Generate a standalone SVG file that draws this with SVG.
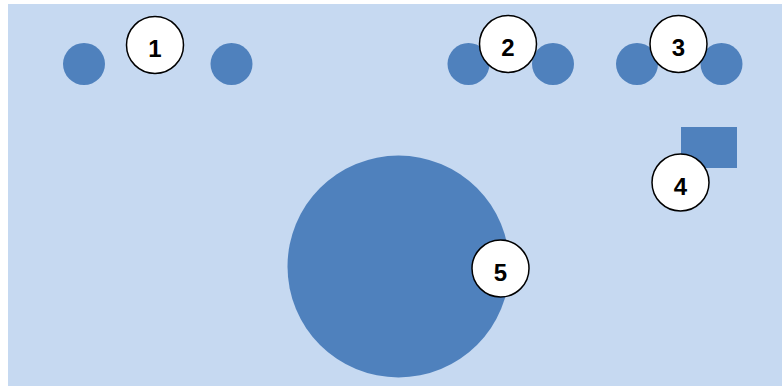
<svg xmlns="http://www.w3.org/2000/svg" width="782" height="392" viewBox="0 0 782 392">
<style>
.shape{fill:#4f81bd}
.badge circle{fill:#fff;stroke:#000;stroke-width:1.5}
.badge text{font-family:"Liberation Sans",Arial,sans-serif;font-weight:bold;font-size:24px;fill:#000;text-anchor:middle}
</style>
<rect x="0" y="0" width="782" height="392" fill="#ffffff"/>
<rect x="8" y="4" width="774" height="382" fill="#c6d9f1"/>
<g id="shapes">
<circle class="shape" cx="84" cy="64" r="21"/>
<circle class="shape" cx="231.5" cy="64" r="21"/>
<circle class="shape" cx="468.5" cy="64" r="21"/>
<circle class="shape" cx="553" cy="64" r="21"/>
<circle class="shape" cx="637" cy="64" r="21"/>
<circle class="shape" cx="721.5" cy="64" r="21"/>
<rect class="shape" x="681" y="127" width="56" height="41"/>
<circle class="shape" cx="398.5" cy="266.5" r="111"/>
</g>
<g id="badge1" class="badge"><circle cx="155" cy="45" r="28.5"/><text x="155" y="57">1</text></g>
<g id="badge2" class="badge"><circle cx="508" cy="44" r="28.5"/><text x="508" y="56">2</text></g>
<g id="badge3" class="badge"><circle cx="678.5" cy="44" r="28.5"/><text x="678.5" y="56">3</text></g>
<g id="badge4" class="badge"><circle cx="680.5" cy="182.5" r="28.5"/><text x="680.5" y="194.5">4</text></g>
<g id="badge5" class="badge"><circle cx="500.5" cy="268.5" r="28.5"/><text x="500.5" y="280.5">5</text></g>
<g id="connectors"></g>
</svg>
